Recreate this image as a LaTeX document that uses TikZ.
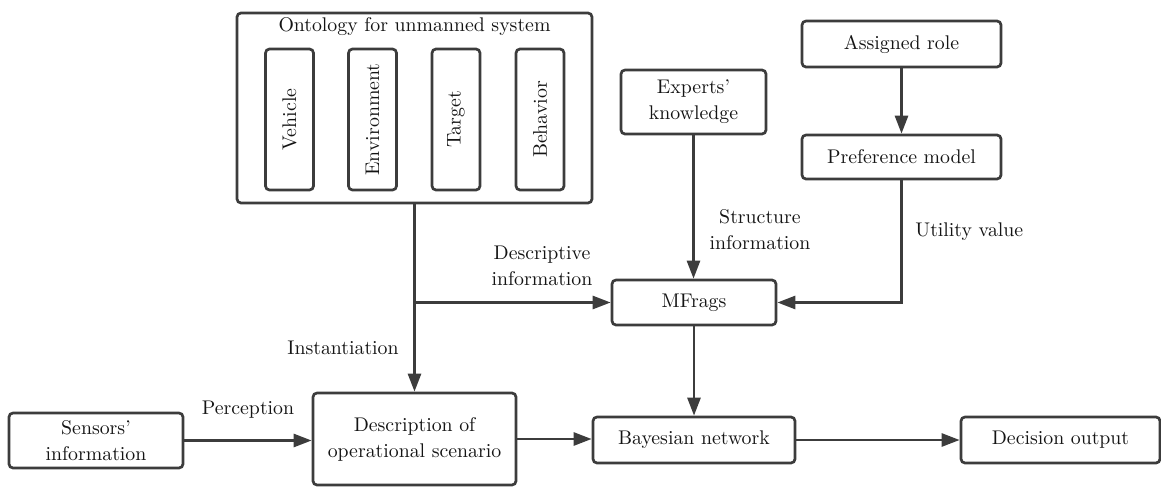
\documentclass[tikz,border=0pt]{standalone}
\usetikzlibrary{arrows.meta}
\definecolor{linegray}{HTML}{3C3C3C}
\definecolor{txtgray}{HTML}{141414}
\begin{document}
\begin{tikzpicture}[x=0.5pt,y=-0.5pt,
    font=\fontsize{9.9}{13}\selectfont,
    box/.style={draw=linegray,line width=1.35pt,rounded corners=2pt,align=center,
      inner sep=0pt,text=txtgray},
    slot/.style={box,rotate=90,minimum width=70.5pt,minimum height=24pt},
    lbl/.style={inner sep=0pt,align=center,text=txtgray},
    flow/.style={draw=linegray,line width=1.35pt,-{Triangle[length=9pt,width=6.5pt]}}]
    \useasboundingbox (0,0) rectangle (1161,487);
    % ontology block
    \node[box,minimum width=177.5pt,minimum height=95pt] (onto) at (414.5,108) {};
    \node[lbl] (ontotitle) at (414.5,27) {Ontology for unmanned system};
    \node[slot] (veh) at (289.5,119.5) {Vehicle};
    \node[slot] (env) at (372.5,119.5) {Environment};
    \node[slot] (tar) at (456,119.5) {Target};
    \node[slot] (beh) at (540,119.5) {Behavior};
    % knowledge and preference
    \node[box,minimum width=72.5pt,minimum height=32pt] (exp) at (693.5,102) {Experts'\\knowledge};
    \node[box,minimum width=99.5pt,minimum height=23pt] (role) at (901.5,44) {Assigned role};
    \node[box,minimum width=99.5pt,minimum height=22pt] (pref) at (901.5,157) {Preference model};
    \node[box,minimum width=82pt,minimum height=22.5pt] (mfr) at (694,302.5) {MFrags};
    % bottom row
    \node[box,minimum width=87pt,minimum height=27.5pt] (sens) at (96,440.5) {Sensors'\\information};
    \node[box,minimum width=101.5pt,minimum height=46pt] (desc) at (414.5,439) {Description of\\operational scenario};
    \node[box,minimum width=101pt,minimum height=23pt] (bay) at (694,440) {Bayesian network};
    \node[box,minimum width=99.5pt,minimum height=23pt] (dec) at (1060.5,440) {Decision output};
    % connectors
    \coordinate (split) at (onto.south |- mfr.west);
    \draw[flow] (onto.south) -- (onto.south |- desc.north);
    \draw[flow] (split) -- (mfr.west);
    \draw[flow] (exp.south) -- (exp.south |- mfr.north);
    \draw[flow] (role.south) -- (pref.north);
    \draw[flow] (pref.south) |- (mfr.east);
    \draw[flow] (mfr.south) -- (mfr.south |- bay.north);
    \draw[flow] (sens.east) -- (sens.east -| desc.west);
    \draw[flow] (desc.east) -- (desc.east -| bay.west);
    \draw[flow] (bay.east) -- (dec.west);
    % labels
    \node[lbl] (linst) at (343,348) {Instantiation};
    \node[lbl] (ldesc) at (542,266) {Descriptive\\information};
    \node[lbl] (lstruct) at (760,230) {Structure\\information};
    \node[lbl,anchor=west] (lutil) at (915,232) {Utility value};
    \node[lbl] (lperc) at (248,410) {Perception};
\end{tikzpicture}
\end{document}
